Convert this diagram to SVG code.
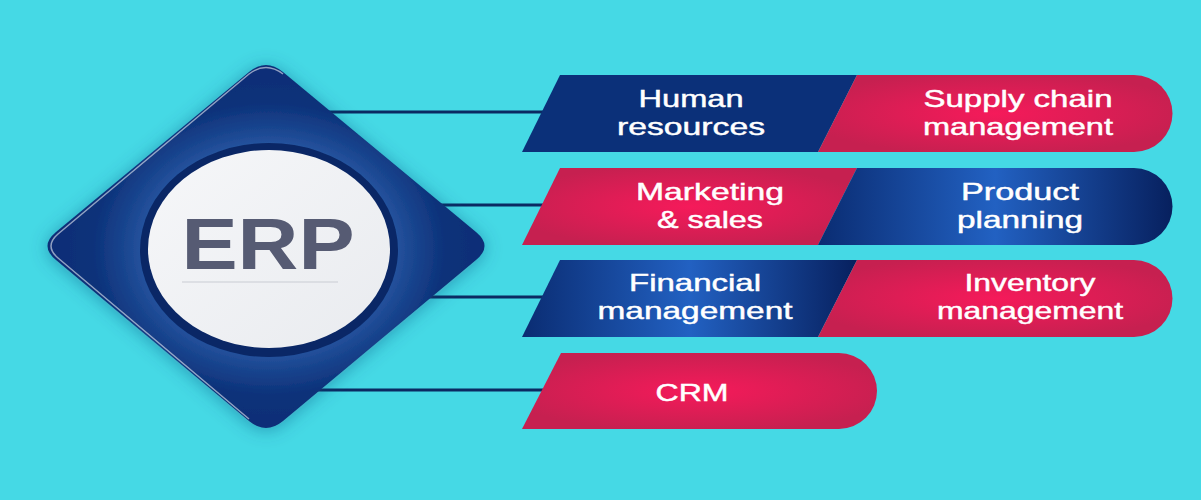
<svg xmlns="http://www.w3.org/2000/svg" width="1201" height="500" viewBox="0 0 1201 500">
<defs>
<style>
.lbl{font-family:"Liberation Sans",Arial,sans-serif;font-size:24px;fill:#ffffff;stroke:#ffffff;stroke-width:0.45;text-anchor:middle}
.conn{stroke:#0b2a62;stroke-width:3;fill:none}
</style>
<radialGradient id="pink" cx="0.5" cy="0.5" r="0.55">
<stop offset="0" stop-color="#f51a5a"/><stop offset="1" stop-color="#c62050"/>
</radialGradient>
<linearGradient id="navyL" x1="0" y1="0" x2="1" y2="0">
<stop offset="0" stop-color="#0a2c72"/><stop offset="0.5" stop-color="#2261c2"/><stop offset="1" stop-color="#07205e"/>
</linearGradient>
<radialGradient id="dia" gradientUnits="userSpaceOnUse" cx="0" cy="0" r="1" gradientTransform="translate(269 249) scale(200 166)">
<stop offset="0.6" stop-color="#2a58a3"/><stop offset="0.72" stop-color="#1a4690"/><stop offset="0.88" stop-color="#0d327a"/><stop offset="1" stop-color="#0b2f78"/>
</radialGradient>
<linearGradient id="disc" x1="0" y1="0" x2="1" y2="1">
<stop offset="0" stop-color="#f6f7f9"/><stop offset="1" stop-color="#e9ebef"/>
</linearGradient>
<filter id="sh" x="-20%" y="-20%" width="140%" height="140%">
<feDropShadow dx="0" dy="2" stdDeviation="9" flood-color="#1a4a7a" flood-opacity="0.45"/>
</filter>
</defs>
<rect width="1201" height="500" fill="#45d9e5"/>
<g id="connectors">
<line class="conn" x1="300" y1="112" x2="543" y2="112"/>
<line class="conn" x1="300" y1="205" x2="543" y2="205"/>
<line class="conn" x1="300" y1="297" x2="543" y2="297"/>
<line class="conn" x1="300" y1="390" x2="543" y2="390"/>
</g>
<g id="erp">
<path d="M56 232 L249 72 Q266 58 283 72 L476 232 Q493 246 476 260 L283 421 Q266 435 249 421 L56 260 Q39 246 56 232 Z" fill="url(#dia)" filter="url(#sh)"/>
<path d="M249 419 L58 258 Q44 246 58 234 L249 74 Q266 61 283 74" fill="none" stroke="#ffffff" stroke-opacity="0.55" stroke-width="1.5"/>
<ellipse cx="269" cy="250" rx="129" ry="107" fill="#0a2766"/>
<ellipse cx="269" cy="249" rx="121" ry="99" fill="url(#disc)"/>
<text x="268" y="269" font-family="'Liberation Sans',Arial,sans-serif" font-weight="bold" font-size="72" fill="#565b73" text-anchor="middle" textLength="173" lengthAdjust="spacingAndGlyphs">ERP</text>
<line x1="182" y1="282" x2="338" y2="282" stroke="#c9ccd3" stroke-width="1"/>
</g>
<g id="human-resources">
<polygon points="560,75 857,75 818,152 522,152" fill="#0b3079"/>
<text class="lbl" x="691" y="107" textLength="105" lengthAdjust="spacingAndGlyphs">Human</text>
<text class="lbl" x="691" y="135" textLength="148" lengthAdjust="spacingAndGlyphs">resources</text>
</g>
<g id="supply-chain">
<path d="M857 75 L1134 75 A38.5 38.5 0 0 1 1134 152 L818 152 Z" fill="url(#pink)"/>
<text class="lbl" x="1018" y="107" textLength="189" lengthAdjust="spacingAndGlyphs">Supply chain</text>
<text class="lbl" x="1018" y="135" textLength="190" lengthAdjust="spacingAndGlyphs">management</text>
</g>
<g id="marketing">
<polygon points="560,168 857,168 818,245 522,245" fill="url(#pink)"/>
<text class="lbl" x="710" y="200" textLength="148" lengthAdjust="spacingAndGlyphs">Marketing</text>
<text class="lbl" x="710" y="228" textLength="106" lengthAdjust="spacingAndGlyphs">&amp; sales</text>
</g>
<g id="product-planning">
<path d="M857 168 L1134 168 A38.5 38.5 0 0 1 1134 245 L818 245 Z" fill="url(#navyL)"/>
<text class="lbl" x="1020" y="200" textLength="118" lengthAdjust="spacingAndGlyphs">Product</text>
<text class="lbl" x="1020" y="228" textLength="126" lengthAdjust="spacingAndGlyphs">planning</text>
</g>
<g id="financial">
<polygon points="560,260 857,260 818,337 522,337" fill="url(#navyL)"/>
<text class="lbl" x="695" y="291" textLength="132" lengthAdjust="spacingAndGlyphs">Financial</text>
<text class="lbl" x="695" y="319" textLength="195" lengthAdjust="spacingAndGlyphs">management</text>
</g>
<g id="inventory">
<path d="M857 260 L1134 260 A38.5 38.5 0 0 1 1134 337 L818 337 Z" fill="url(#pink)"/>
<text class="lbl" x="1030" y="291" textLength="131" lengthAdjust="spacingAndGlyphs">Inventory</text>
<text class="lbl" x="1030" y="319" textLength="186" lengthAdjust="spacingAndGlyphs">management</text>
</g>
<g id="crm">
<path d="M561 353 L839 353 A38 38 0 0 1 839 429 L522 429 Z" fill="url(#pink)"/>
<text class="lbl" x="692" y="401" font-size="25" textLength="73" lengthAdjust="spacingAndGlyphs">CRM</text>
</g>
</svg>
